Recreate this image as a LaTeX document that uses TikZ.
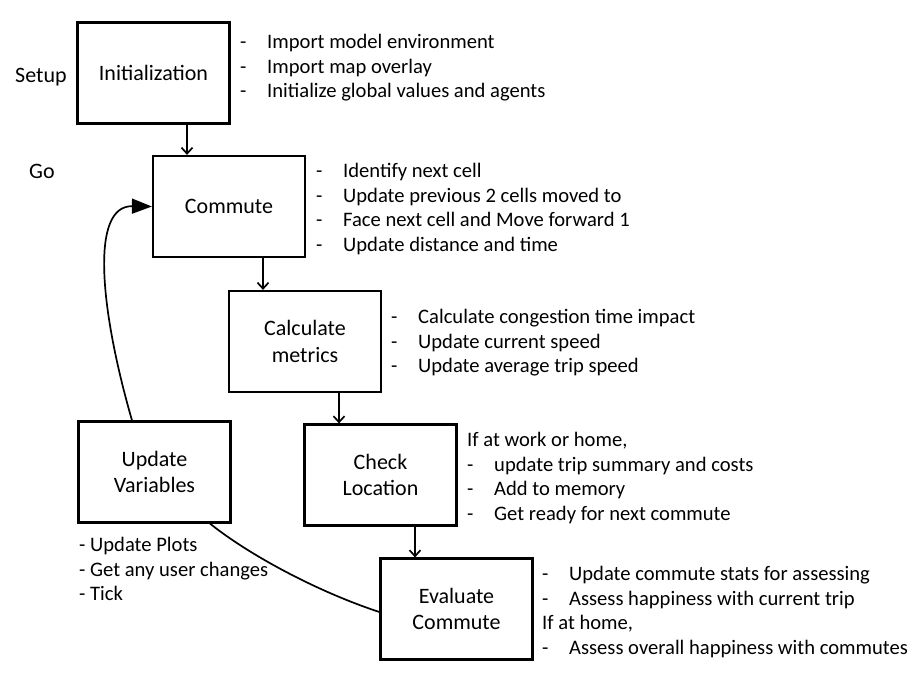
\documentclass[tikz,border=0pt]{standalone}
\usepackage{fontspec}
\setmainfont{Carlito}
\usetikzlibrary{arrows.meta}
\newcommand{\dl}{\makebox[27pt][l]{-}}
\begin{document}
\begin{tikzpicture}[x=1pt,y=-1pt,
  box/.style={draw, line width=2.2pt, minimum width=152pt, minimum height=101pt, inner sep=0pt, align=center, font=\fontsize{22}{26.5}\selectfont},
  bul/.style={anchor=west, inner sep=0pt, align=left, font=\fontsize{20.6}{24.4}\selectfont},
  lbl/.style={anchor=west, inner sep=0pt, font=\fontsize{22}{26}\selectfont},
  flow/.style={line width=1.7pt, -{Straight Barb[length=6pt,width=11pt,line width=1.7pt]}},
  loopback/.style={line width=1.7pt, -{Triangle[length=20pt,width=15pt]}},
  link/.style={line width=1.7pt}]
\fill[white] (0,0) rectangle (914,675);
\useasboundingbox (0,0) rectangle (914,675);

% boxes
\node[box] (init) at (153.5,73) {Initialization};
\node[box] (commute) at (229,206.5) {Commute};
\node[box] (calc) at (305,341.5) {Calculate\\metrics};
\node[box] (check) at (380.5,475) {Check\\Location};
\node[box] (eval) at (456.5,609) {Evaluate\\Commute};
\node[box] (uv) at (154.5,472) {Update\\Variables};

% side labels
\node[lbl] (setup) at (15,77) {Setup};
\node[lbl] (go) at (29,171) {Go};

% bullet texts
\node[bul] (tinit) at (240,68) {\dl Import model environment\\\dl Import map overlay\\\dl Initialize global values and agents};
\node[bul] (tcommute) at (316,209) {\dl Identify next cell\\\dl Update previous 2 cells moved to\\\dl Face next cell and Move forward 1\\\dl Update distance and time};
\node[bul] (tcalc) at (391,343) {\dl Calculate congestion time impact\\\dl Update current speed\\\dl Update average trip speed};
\node[bul] (tcheck) at (467,478) {If at work or home,\\\dl update trip summary and costs\\\dl Add to memory\\\dl Get ready for next commute};
\node[bul] (teval) at (542,612) {\dl Update commute stats for assessing\\\dl Assess happiness with current trip\\If at home,\\\dl Assess overall happiness with commutes};
\node[bul] (tuv) at (79,569) {- Update Plots\\- Get any user changes\\- Tick};

% flow arrows
\draw[flow] ([xshift=33.5pt]init.south) -- ([xshift=33.5pt]init.south |- commute.north);
\draw[flow] ([xshift=34pt]commute.south) -- ([xshift=34pt]commute.south |- calc.north);
\draw[flow] ([xshift=34pt]calc.south) -- ([xshift=34pt]calc.south |- check.north);
\draw[flow] ([xshift=34.5pt]check.south) -- ([xshift=34.5pt]check.south |- eval.north);

% loop back
\draw[loopback] ([xshift=-22.5pt]uv.north) .. controls +(-32,-111) and +(-62,-1) .. (commute.west);
\draw[link] ([xshift=55.5pt]uv.south) .. controls +(40,32) and +(-61,-20) .. ([yshift=-3pt]eval.west);
\end{tikzpicture}
\end{document}
